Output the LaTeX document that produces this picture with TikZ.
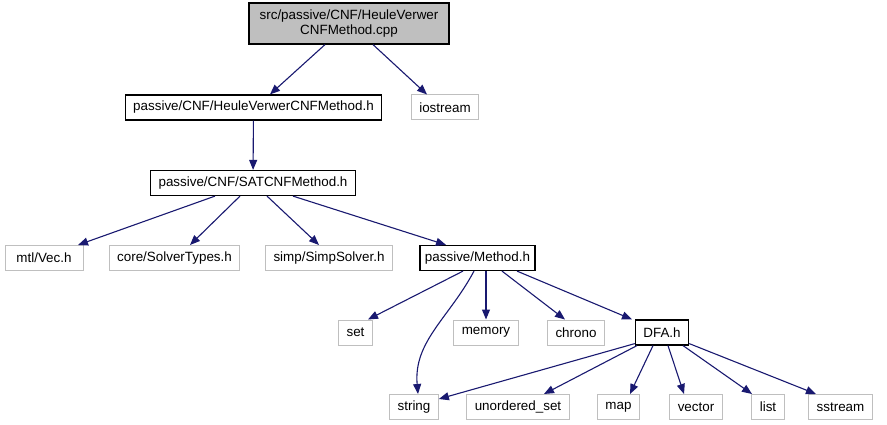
\documentclass[tikz,border=0pt]{standalone}
\usepackage{fontspec}
\setmainfont{Liberation Sans}
\usetikzlibrary{arrows.meta}
\definecolor{okMavi}{HTML}{191970}
\definecolor{kutuGri}{HTML}{BFBFBF}
\definecolor{dolguGri}{HTML}{BFBFBF}
\tikzset{
  anaKutu/.style={draw=black,line width=1.2pt,inner xsep=8pt,inner ysep=0pt,minimum height=25pt,font=\fontsize{13.4}{15}\selectfont},
  griKutu/.style={anaKutu,draw=kutuGri,line width=1pt},
  ok/.style={draw=okMavi,line width=1.1pt,-{Triangle[length=10pt,width=8pt]}}
}
\begin{document}
\begin{tikzpicture}[x=1pt,y=-1pt]
\useasboundingbox (0,0) rectangle (887,425);
% kaynak dosya
\node[anaKutu,fill=dolguGri,align=center,minimum width=200pt,minimum height=41pt] (kok) at (349,23.5) {src/passive/CNF/HeuleVerwer\\CNFMethod.cpp};
\node[anaKutu] (heule) at (253.5,107.5) {passive/CNF/HeuleVerwerCNFMethod.h};
\node[griKutu] (iostream) at (445,107.5) {iostream};
\node[anaKutu] (sat) at (253,183) {passive/CNF/SATCNFMethod.h};
\node[griKutu,minimum width=78pt] (vec) at (44,258) {mtl/Vec.h};
\node[griKutu] (solverTypes) at (174.5,258) {core/SolverTypes.h};
\node[griKutu] (simpSolver) at (329,258) {simp/SimpSolver.h};
\node[anaKutu,inner xsep=5pt] (method) at (477.5,258) {passive/Method.h};
\node[griKutu] (set) at (355.5,332.5) {set};
\node[griKutu] (memory) at (486,332.5) {memory};
\node[griKutu] (chrono) at (576,332.5) {chrono};
\node[anaKutu] (dfa) at (662,332.5) {DFA.h};
\node[griKutu] (string) at (414,407) {string};
\node[griKutu] (unorderedSet) at (518,407) {unordered\_set};
\node[griKutu] (map) at (618.5,407) {map};
\node[griKutu] (vector) at (696,407) {vector};
\node[griKutu] (list) at (768,407) {list};
\node[griKutu] (sstream) at (840.5,407) {sstream};
% baglantilar
\draw[ok] (kok.south -| 325,0) -- (heule.north -| 270,0);
\draw[ok] (kok.south -| 373,0) -- (iostream.north -| 427,0);
\draw[ok] (heule) -- (sat);
\draw[ok] (sat.south -| 215,0) -- (vec.north -| 78,0);
\draw[ok] (sat.south -| 240,0) -- (solverTypes.north -| 190,0);
\draw[ok] (sat.south -| 267,0) -- (simpSolver.north -| 319,0);
\draw[ok] (sat.south -| 293,0) -- (method.north -| 446,0);
\draw[ok] (method.south -| 463,0) -- (set.north -| 368,0);
\draw[ok] (method.south -| 474,0) to[out=-118,in=95] (string.north -| 418,0);
\draw[ok] (method.south -| 486,0) -- (memory.north);
\draw[ok] (method.south -| 502,0) -- (chrono.north -| 565,0);
\draw[ok] (method.south -| 517,0) -- (dfa.north -| 632,0);
\draw[ok] (dfa.south west) ++(0,-2) -- (string.north east |- 0,399);
\draw[ok] (dfa.south -| 637,0) -- (unorderedSet.north -| 544,0);
\draw[ok] (dfa.south -| 653,0) -- (map.north -| 630,0);
\draw[ok] (dfa.south -| 668,0) -- (vector.north -| 684,0);
\draw[ok] (dfa.south -| 683,0) -- (list.north -| 752,0);
\draw[ok] (dfa.south east) ++(0,-2) -- (sstream.north -| 816,0);
\end{tikzpicture}
\end{document}
